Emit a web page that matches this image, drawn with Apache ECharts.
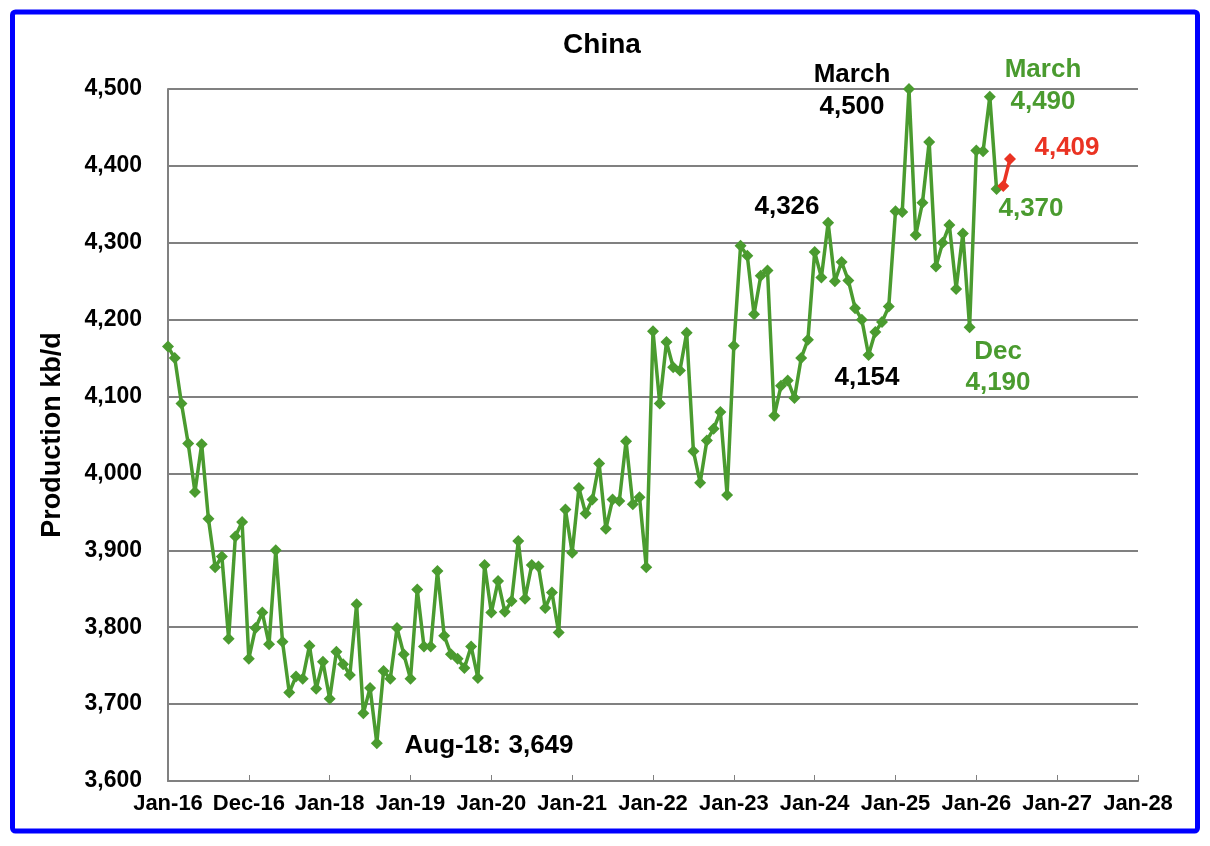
<!DOCTYPE html>
<html>
<head>
<meta charset="utf-8">
<script src="https://cdn.jsdelivr.net/npm/echarts@6/dist/echarts.min.js"></script>
<style>
html,body{margin:0;padding:0;background:#ffffff;}
#chart{width:1210px;height:846px;}
</style>
</head>
<body>
<div id="chart"></div>
<script>
// X tick labels (one every 12 months starting Jan 2016)
const xTickLabels = ['Jan-16','Dec-16','Jan-18','Jan-19','Jan-20','Jan-21','Jan-22','Jan-23','Jan-24','Jan-25','Jan-26','Jan-27','Jan-28'];

// Monthly production, kb/d, Jan 2016 .. Apr 2026 (green)
const greenValues = [
  4165,4150,4091,4039,3976,4038,3941,3878,3892,3785,3918,3937,
  3759,3799,3819,3778,3900,3781,3715,3736,3733,3776,3720,3755,
  3707,3768,3752,3738,3830,3688,3721,3649,3743,3733,3799,3765,
  3733,3849,3775,3775,3873,3789,3765,3759,3747,3775,3734,3881,
  3819,3860,3820,3834,3912,3837,3881,3879,3825,3845,3793,3953,
  3897,3981,3948,3966,4013,3928,3966,3964,4042,3960,3969,3878,
  4185,4091,4171,4138,4134,4183,4029,3988,4043,4058,4080,3972,
  4166,4296,4283,4207,4257,4264,4075,4114,4121,4098,4150,4174,
  4288,4255,4326,4250,4275,4251,4215,4200,4154,4184,4197,4217,
  4341,4340,4500,4310,4352,4431,4269,4300,4323,4240,4312,4190,
  4420,4419,4490,4370
];
// Red series (May-26 .. Jun-26), month index offset from Jan-16
const redStartMonth = 124;
const redValues = [4374, 4409];

const GREEN = '#4A9B2F';
const RED = '#EA3323';
const FONT = '"Liberation Sans", Arial, sans-serif';

const greenData = greenValues.map((v, i) => [i, v]);
const redData = redValues.map((v, i) => [redStartMonth + i, v]);

const chart = echarts.init(document.getElementById('chart'), null, {renderer: 'canvas'});

function txt(text, x, y, color, size, extra) {
  return Object.assign({
    type: 'text', x: x, y: y, z: 100,
    style: {text: text, fill: color, font: 'bold ' + size + 'px ' + FONT, textAlign: 'center', textVerticalAlign: 'middle'}
  }, extra || {});
}

const option = {
  animation: false,
  backgroundColor: '#ffffff',
  grid: {left: 168, right: 72, top: 89, bottom: 65, containLabel: false},
  xAxis: {
    type: 'value', min: 0, max: 144, interval: 12,
    axisLine: {show: true, lineStyle: {color: '#808080', width: 2}},
    axisTick: {show: true, inside: true, length: 6, lineStyle: {color: '#808080', width: 1}},
    splitLine: {show: false},
    axisLabel: {
      color: '#000', fontFamily: FONT, fontWeight: 'bold', fontSize: 22, margin: 12,
      formatter: v => xTickLabels[Math.round(v / 12)] || ''
    }
  },
  yAxis: {
    type: 'value', min: 3600, max: 4500, interval: 100,
    axisLine: {show: true, lineStyle: {color: '#808080', width: 2}},
    axisTick: {show: false},
    splitLine: {show: true, lineStyle: {color: '#808080', width: 2}},
    axisLabel: {
      color: '#000', fontFamily: FONT, fontWeight: 'bold', fontSize: 23, margin: 26,
      formatter: v => v.toLocaleString('en-US')
    }
  },
  series: [
    {
      type: 'line', data: greenData, clip: true,
      symbol: 'diamond', symbolSize: 12, showAllSymbol: true,
      lineStyle: {color: GREEN, width: 3.5},
      itemStyle: {color: GREEN}, z: 3
    },
    {
      type: 'line', data: redData, clip: true,
      symbol: 'diamond', symbolSize: 12,
      lineStyle: {color: RED, width: 3.5},
      itemStyle: {color: RED}, z: 4
    }
  ],
  graphic: [
    {type: 'rect', shape: {x: 12.5, y: 12, width: 1185, height: 819, r: 3}, style: {fill: 'none', stroke: '#0000FF', lineWidth: 5}, z: 100},
    txt('China', 602, 45, '#000', 28),
    txt('Production kb/d', 53, 435, '#000', 27, {rotation: Math.PI / 2}),
    txt('March', 852, 75, '#000', 26),
    txt('4,500', 852, 107, '#000', 26),
    txt('4,326', 787, 207, '#000', 26),
    txt('4,154', 867, 378, '#000', 26),
    txt('Aug-18: 3,649', 489, 746, '#000', 26),
    txt('March', 1043, 70, GREEN, 26),
    txt('4,490', 1043, 102, GREEN, 26),
    txt('4,409', 1067, 148, RED, 26),
    txt('4,370', 1031, 209, GREEN, 26),
    txt('Dec', 998, 352, GREEN, 26),
    txt('4,190', 998, 383, GREEN, 26)
  ]
};
chart.setOption(option);
</script>
</body>
</html>
